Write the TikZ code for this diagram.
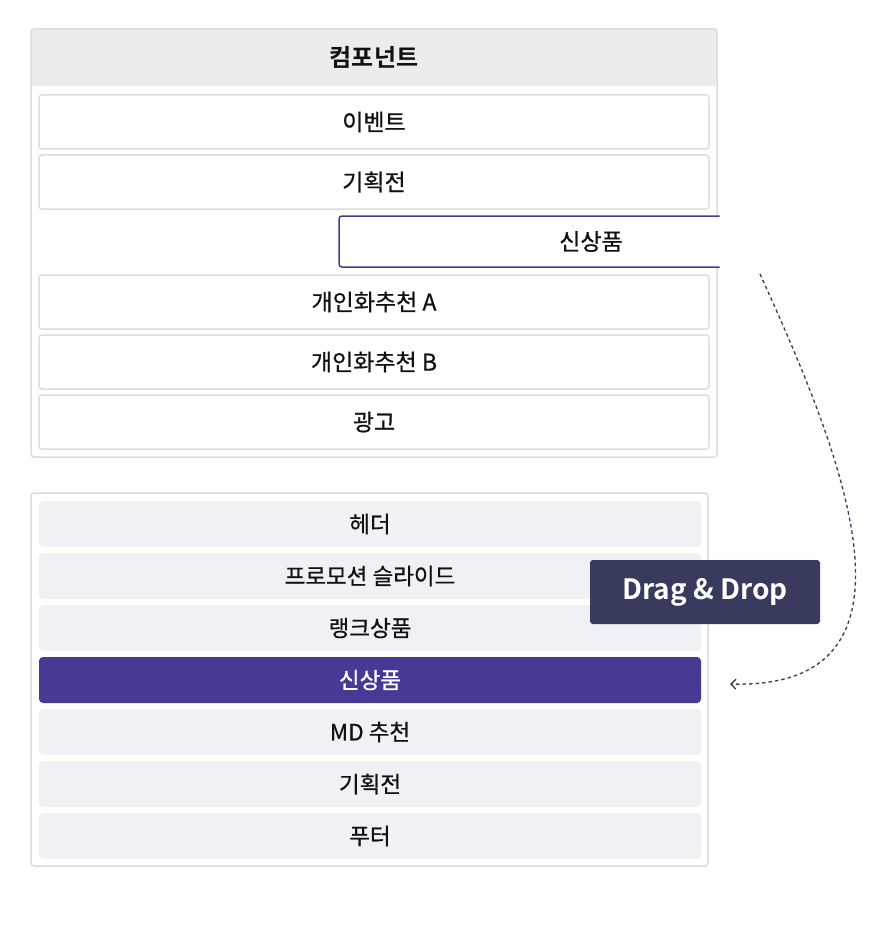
\documentclass[tikz,border=0pt]{standalone}
\usepackage{fontspec}
\setmainfont[FakeBold=0.7]{Noto Sans CJK KR}
\newfontfamily\krbold{Noto Sans CJK KR Bold}
\usetikzlibrary{arrows.meta}
\definecolor{panelline}{HTML}{DCDCDC}
\definecolor{headfill}{HTML}{EBECED}
\definecolor{itemline}{HTML}{DDDDDD}
\definecolor{lightfill}{HTML}{F0F1F5}
\definecolor{selpurple}{HTML}{463A94}
\definecolor{navy}{HTML}{383A5E}
\definecolor{txt}{HTML}{111111}
\tikzset{
  topitem/.style={draw=itemline, line width=1.5pt, fill=white, rounded corners=3pt,
    minimum width=670pt, minimum height=54pt, inner sep=0pt, font=\fontsize{23}{27}\selectfont, text=txt},
  botitem/.style={fill=lightfill, rounded corners=4pt,
    minimum width=662pt, minimum height=46pt, inner sep=0pt, font=\fontsize{22.5}{26}\selectfont, text=txt},
  selitem/.style={botitem, fill=selpurple, text=white},
  tag/.style={fill=navy, rounded corners=3pt, minimum width=230pt, minimum height=64pt, inner sep=0pt,
    text=white, font=\krbold\fontsize{28}{32}\selectfont},
}
\begin{document}
\begin{tikzpicture}[x=1pt,y=-1pt]
\useasboundingbox (0,0) rectangle (880,944);
% top panel
\begin{scope}
  \clip[rounded corners=3pt] (31,29) rectangle (717,457);
  \fill[headfill] (31,29) rectangle (717,86);
\end{scope}
\draw[panelline, line width=1.5pt, rounded corners=3pt] (31,29) rectangle (717,457);
\node[font=\krbold\fontsize{24}{28}\selectfont, text=txt] (head) at (374,57) {컴포넌트};
\node[topitem] (t1) at (374,122) {이벤트};
\node[topitem] (t2) at (374,182) {기획전};
\node[topitem] (t4) at (374,302) {개인화추천 A};
\node[topitem] (t5) at (374,362) {개인화추천 B};
\node[topitem] (t6) at (374,422) {광고};
% dragged item
\begin{scope}
  \clip (330,200) rectangle (719.5,280);
  \node[draw=selpurple, line width=1.5pt, fill=white, rounded corners=3pt,
    minimum width=430pt, minimum height=51pt, inner sep=0pt] (drag) at (554,241.5) {};
\end{scope}
\node[font=\fontsize{23}{27}\selectfont, text=txt] (dragtext) at (591,241.5) {신상품};
% bottom panel
\draw[panelline, line width=1.5pt, rounded corners=3pt] (31,493) rectangle (708,866);
\node[botitem] (b1) at (370,524) {헤더};
\node[botitem] (b2) at (370,576) {프로모션 슬라이드};
\node[botitem] (b3) at (370,628) {랭크상품};
\node[selitem] (b4) at (370,680) {신상품};
\node[botitem] (b5) at (370,732) {MD 추천};
\node[botitem] (b6) at (370,784) {기획전};
\node[botitem] (b7) at (370,836) {푸터};
% tag
\node[tag] (dd) at (705,592) {Drag \& Drop};
% arrow
\coordinate (a0) at (760,274);
\coordinate (a1) at (730,684);
\draw[navy, line width=1.3pt, dash pattern=on 3.5pt off 3pt, -{Straight Barb[length=5pt,width=10pt]}]
  (a0) .. controls (840,450) and (940,690) .. (a1);
\end{tikzpicture}
\end{document}
